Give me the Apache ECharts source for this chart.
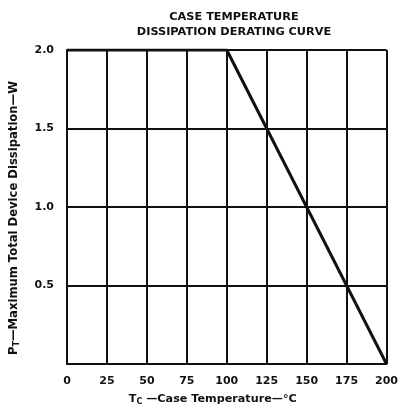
<!DOCTYPE html>
<html><head><meta charset="utf-8">
<script src="https://cdn.jsdelivr.net/npm/echarts@6/dist/echarts.min.js"></script>
<style>html,body{margin:0;padding:0;background:#fff}#c{width:401px;height:413px}</style>
</head><body><div id="c"></div>
<script>
var temps = [0, 100, 200];
var power = [2.0, 2.0, 0.0];
var xTicks = [0, 25, 50, 75, 100, 125, 150, 175, 200];
var yTicks = [0.5, 1.0, 1.5, 2.0];
var titleLines = ['CASE TEMPERATURE', 'DISSIPATION DERATING CURVE'];

var font = 'DejaVu Sans';
var chart = echarts.init(document.getElementById('c'));
chart.setOption({
  backgroundColor: '#fff',
  animation: false,
  title: {
    text: titleLines.join('\n'),
    left: 229, top: 5, textAlign: 'center',
    textStyle: {fontFamily: font, fontWeight: 'bold', fontSize: 11.3, color: '#111', lineHeight: 15}
  },
  grid: {left: 67, right: 12, top: 50, bottom: 49},
  xAxis: {
    type: 'value', min: 0, max: 200, interval: 25,
    axisLine: {show: true, lineStyle: {color: '#111', width: 2}},
    axisTick: {show: false},
    splitLine: {show: true, lineStyle: {color: '#111', width: 2}},
    axisLabel: {margin: 12, color: '#111', fontFamily: font, fontWeight: 'bold', fontSize: 11,
      formatter: function (v) { return xTicks.indexOf(v) >= 0 ? String(v) : ''; }},
    name: '{b|T}{s|C}{b| —Case Temperature—°C}',
    nameLocation: 'middle', nameGap: 28,
    nameTextStyle: {padding: [0, 28, 0, 0], rich: {
      b: {fontFamily: font, fontWeight: 'bold', fontSize: 11.2, color: '#111'},
      s: {fontFamily: font, fontWeight: 'bold', fontSize: 8, color: '#111', padding: [6, 0, 0, 0]}
    }}
  },
  yAxis: {
    type: 'value', min: 0, max: 2, interval: 0.5,
    axisLine: {show: true, lineStyle: {color: '#111', width: 2}},
    axisTick: {show: false},
    splitLine: {show: true, lineStyle: {color: '#111', width: 2}},
    axisLabel: {margin: 13, color: '#111', fontFamily: font, fontWeight: 'bold', fontSize: 11,
      formatter: function (v) { return yTicks.indexOf(v) >= 0 ? v.toFixed(1) : ''; }},
    name: '{b|P}{s|T}{b|—Maximum Total Device Dissipation—W}',
    nameLocation: 'middle', nameGap: 46, nameRotate: 90,
    nameTextStyle: {padding: [0, 22, 0, 0], rich: {
      b: {fontFamily: font, fontWeight: 'bold', fontSize: 11.6, color: '#111'},
      s: {fontFamily: font, fontWeight: 'bold', fontSize: 8, color: '#111', padding: [6, 0, 0, 0]}
    }}
  },
  series: [{
    type: 'line',
    data: temps.map(function (t, i) { return [t, power[i]]; }),
    symbol: 'none',
    lineStyle: {color: '#111', width: 3},
    z: 5
  }]
});
</script></body></html>
